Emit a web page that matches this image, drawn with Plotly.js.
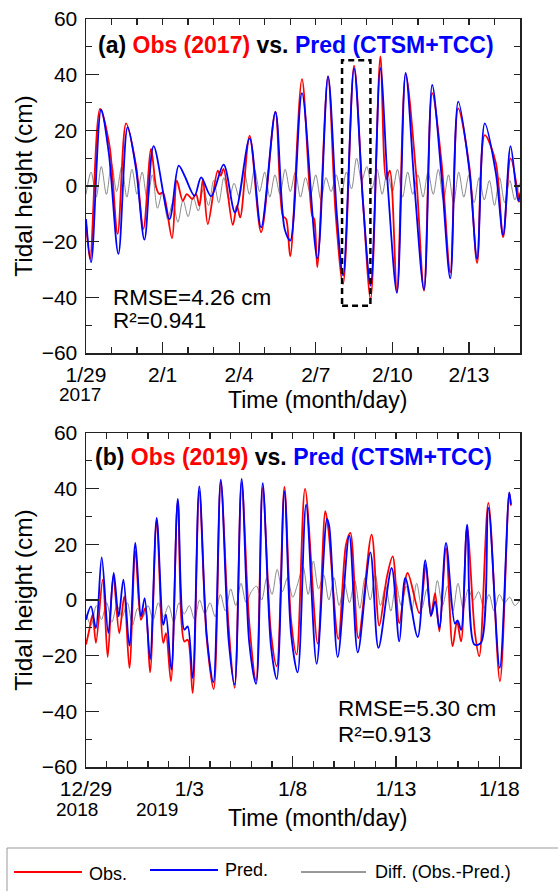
<!DOCTYPE html>
<html>
<head>
<meta charset="utf-8">
<script src="https://cdn.plot.ly/plotly-3.0.1.min.js"></script>
<style>html,body{margin:0;padding:0;background:#fff;}#chart{width:558px;height:891px;}</style>
</head>
<body>
<div id="chart"></div>
<script>
// ---------------- Panel (a): 2017, days since 1/29 00:00 ----------------
const tickDaysA = [0, 3, 6, 9, 12, 15];
const tickLabelsA = ['1/29', '2/1', '2/4', '2/7', '2/10', '2/13'];

const predA_day = [0.00,0.20,0.59,0.89,1.27,1.63,1.96,2.29,2.65,3.27,3.63,3.86,4.25,4.51,4.90,5.39,5.84,6.41,6.86,7.42,7.78,8.00,8.46,9.06,9.48,9.83,10.07,10.50,10.85,11.15,11.53,11.83,12.18,12.52,12.88,13.24,13.56,13.92,14.27,14.58,15.01,15.32,15.62,16.05,16.34,16.63,16.93,17.02];
const predA_cm  = [-11.9,-27.4,27.4,12.1,-24.4,21.1,6.1,-19.3,14.3,-11.9,7.3,3.7,-3.5,3.1,-3.7,7.7,-9.5,17.1,-14.9,26.5,-15.4,-19.6,33.4,-26.0,39.4,-10.7,-32.2,42.3,-5.9,-35.8,42.3,-1.1,-38.4,40.6,-1.7,-37.2,36.3,4.3,-33.2,30.3,6.1,-26.2,22.5,4.9,-17.6,14.3,-5.3,-2.3];

const obsA_day = [0.00,0.16,0.55,0.92,1.24,1.57,1.96,2.25,2.55,2.75,2.88,3.01,3.37,3.56,3.79,3.95,4.16,4.31,4.44,4.58,4.77,5.16,5.27,5.39,5.75,5.91,6.04,6.41,6.86,7.42,7.71,7.84,8.00,8.46,8.86,8.94,9.06,9.48,9.78,10.07,10.50,10.85,11.15,11.53,11.76,11.90,12.18,12.52,12.92,13.24,13.56,13.92,14.27,14.58,15.01,15.32,15.62,16.05,16.34,16.63,16.97];
const obsA_cm  = [-13.1,-26.2,27.7,14.5,-17.2,22.5,7.3,-15.4,13.3,-0.5,-2.9,-2.3,-18.7,1.9,-5.3,-2.9,-4.7,-2.9,-7.1,2.5,-13.7,5.5,3.7,6.1,-14.0,-7.1,-11.3,18.1,-16.6,26.7,-10.7,-11.9,-25.3,38.4,-10.7,-11.9,-29.2,39.4,-10.1,-35.2,43.2,-5.6,-40.6,46.6,2.5,5.5,-38.0,40.2,5.5,-37.6,33.4,9.1,-31.0,27.9,7.3,-27.7,18.3,8.5,-18.4,9.9,-5.9];

const diffA_step = 0.2;
const diffA_cm = [-3,5,-4,7,-3,8,-2,7,-4,6,-3,5,-5,4,
  -8,-2,-12,-6,-13,-5,-11,-4,
  -9,-1,-7,2,-6,3,-5,1,
  -4,5,-3,6,-2,5,-4,4,-3,6,-2,5,-4,3,-3,4,-5,3,-2,4,-3,
  5,-1,10,2,7,-1,6,-3,5,-2,6,-4,5,-3,4,
  -4,5,-3,6,-5,4,-6,5,-4,4,-6,3,-5,2,-7,3,-6,2,-5,1,-4];

// ---------------- Panel (b): 2018/2019, days since 12/29 00:00 ----------------
const tickDaysB = [0, 5, 10, 15, 20];
const tickLabelsB = ['12/29', '1/3', '1/8', '1/13', '1/18'];

const predB_day = [0.00,0.24,0.48,0.76,1.08,1.34,1.58,1.81,2.10,2.39,2.66,2.84,3.10,3.42,3.74,3.87,4.13,4.44,4.76,4.92,5.16,5.48,5.84,6.16,6.52,6.90,7.19,7.53,7.90,8.23,8.55,8.95,9.23,9.60,9.92,10.24,10.65,11.16,11.66,11.77,12.18,12.74,13.15,13.76,14.15,14.79,15.16,15.45,16.05,16.42,16.69,16.89,17.10,17.42,17.85,17.98,18.15,18.44,18.79,19.11,19.47,20.02,20.48,20.56];
const predB_cm  = [-7.1,-2.3,-10.1,15.3,-11.9,9.7,-5.9,7.3,-16.4,20.5,-5.9,0.7,-21.2,29.5,-8.9,-5.3,-25.0,36.3,-10.7,-9.5,-28.0,40.8,-12.5,-29.6,43.2,-14.3,-30.4,43.5,-15.4,-30.1,42.0,-16.6,-28.4,39.0,-11.9,-26.0,34.3,-22.9,29.1,26.5,-20.5,23.1,-18.8,17.1,-17.2,11.5,-14.9,7.9,-13.3,14.3,-5.6,-0.5,-10.1,20.5,-8.5,-7.3,-10.7,27.1,-16.0,-15.4,33.1,-24.4,38.7,34.3];

const obsB_day = [0.00,0.16,0.32,0.48,0.81,1.05,1.32,1.61,1.85,2.10,2.39,2.66,2.87,3.10,3.42,3.74,3.87,4.11,4.44,4.76,4.92,5.16,5.48,5.84,6.18,6.52,6.90,7.19,7.53,7.90,8.23,8.55,8.95,9.23,9.60,9.92,10.19,10.60,11.21,11.58,11.73,12.21,12.58,12.79,13.18,13.82,14.19,14.56,14.84,15.16,15.56,16.13,16.45,16.69,16.89,17.10,17.42,17.74,17.95,18.15,18.44,18.82,19.03,19.47,20.03,20.48,20.56];
const obsB_cm  = [-16.0,-10.7,-5.3,-15.4,7.3,-20.5,8.5,-11.9,1.3,-24.4,17.5,-7.1,-2.9,-26.0,28.6,-15.4,-11.9,-29.2,35.4,-14.9,-14.3,-33.4,39.0,-13.7,-32.0,42.3,-9.5,-31.6,42.0,-8.3,-28.9,40.2,-11.9,-23.8,40.6,-7.1,-19.6,39.9,-15.7,31.9,25.3,-14.0,19.9,24.1,-13.7,23.5,-9.2,8.3,15.7,-8.3,9.7,-4.7,12.7,-5.9,2.5,-11.3,18.7,-16.6,-7.7,-14.9,25.9,-11.9,-20.2,34.9,-29.2,38.4,33.9];

const diffB_step = 0.25;
const diffB_cm = [-5,-9,-2,-7,-1,-8,-2,-6,-1,-9,-3,-6,-2,-7,-1,-6,-2,-8,-1,-5,-2,-7,0,-5,-1,-6,2,-4,
  4,-2,6,-1,3,5,0,8,2,11,3,8,1,6,
  12,2,14,4,9,0,8,-2,6,-1,7,-3,8,0,9,-2,5,-4,6,-2,
  5,-4,6,-3,4,-5,7,-2,5,-4,6,-3,4,0,3,-3,2,-4,2,-1,1,-2,0];

// Highlight box in panel (a) (data units)
const boxA = {x0: 10.03, x1: 11.14, y0: -43.0, y1: 45.2};

// ---------------- Build ----------------
const FONT = 'Liberation Sans, Arial, sans-serif';
const RED = '#ff0000', BLUE = '#0000ff', GRAY = '#8a8a8a';
const stepArr = (n, s) => Array.from({length: n}, (_, i) => +(i * s).toFixed(3));

function series(x, y, color, width, xa, ya) {
  return {x, y, type: 'scatter', mode: 'lines', xaxis: xa, yaxis: ya,
    line: {color, width, shape: 'spline', smoothing: 0.9}, hoverinfo: 'skip', showlegend: false};
}

const traces = [
  series(stepArr(diffA_cm.length, diffA_step), diffA_cm, GRAY, 1, 'x', 'y'),
  series(obsA_day, obsA_cm, RED, 1.8, 'x', 'y'),
  series(predA_day, predA_cm, BLUE, 1.8, 'x', 'y'),
  series(stepArr(diffB_cm.length, diffB_step), diffB_cm, GRAY, 1, 'x2', 'y2'),
  series(obsB_day, obsB_cm, RED, 1.8, 'x2', 'y2'),
  series(predB_day, predB_cm, BLUE, 1.8, 'x2', 'y2'),
  // carriers for mirrored tick axes
  {x: [0], y: [0], xaxis: 'x3', yaxis: 'y3', type: 'scatter', mode: 'markers', marker: {opacity: 0}, showlegend: false, hoverinfo: 'skip'},
  {x: [0], y: [0], xaxis: 'x4', yaxis: 'y4', type: 'scatter', mode: 'markers', marker: {opacity: 0}, showlegend: false, hoverinfo: 'skip'}
];

const W = 558, H = 891, ML = 86, MR = 38, MT = 19, MB = 124;
const PW = W - ML - MR, PH = H - MT - MB;
const px = v => (v - ML) / PW;
const py = v => (H - MB - v) / PH;
const domA = [py(353), 1];
const domB = [0, py(433)];

const AX = '#222';
const tickY = [-60, -40, -20, 0, 20, 40, 60];
function xMain(range, tv, tt, anchor) {
  return {domain: [0, 1], anchor, range, tickmode: 'array', tickvals: tv, ticktext: tt,
    ticks: 'inside', ticklen: 11, tickwidth: 1.3, tickcolor: AX,
    minor: {tickmode: 'linear', tick0: 0, dtick: 1, ticks: 'inside', ticklen: 6, tickwidth: 1.3, tickcolor: AX, showgrid: false},
    showline: true, linecolor: AX, linewidth: 1.5, mirror: true, showgrid: false, zeroline: false,
    tickfont: {family: FONT, size: 21, color: '#000'}, ticklabelstandoff: 2, fixedrange: true};
}
function yMain(domain, anchor) {
  return {domain, anchor, range: [-60, 60], tickmode: 'array', tickvals: tickY,
    ticks: 'inside', ticklen: 13, tickwidth: 1.3, tickcolor: AX,
    minor: {tickmode: 'linear', tick0: 0, dtick: 10, ticks: 'inside', ticklen: 6, tickwidth: 1.3, tickcolor: AX, showgrid: false},
    showline: true, linecolor: AX, linewidth: 1.5, mirror: true, showgrid: false, zeroline: false,
    tickfont: {family: FONT, size: 21, color: '#000'}, ticklabelstandoff: 3,
    title: {text: 'Tidal height (cm)', font: {family: FONT, size: 24.5, color: '#000'}, standoff: 2}, fixedrange: true};
}
function xMirror(range, overlay, anchor) {
  return {overlaying: overlay, anchor, side: 'top', range, tickmode: 'linear', tick0: 0, dtick: 1,
    ticks: 'inside', ticklen: 6, tickwidth: 1.3, tickcolor: AX, showticklabels: false,
    showline: false, showgrid: false, zeroline: false, fixedrange: true};
}
function yMirror(overlay, anchor) {
  return {overlaying: overlay, anchor, side: 'right', range: [-60, 60], tickmode: 'linear', tick0: 0, dtick: 10,
    ticks: 'inside', ticklen: 6, tickwidth: 1.3, tickcolor: AX, showticklabels: false,
    showline: false, showgrid: false, zeroline: false, fixedrange: true};
}

function panelTitle(label, year, xPix, yPix) {
  return {xref: 'paper', yref: 'paper', x: px(xPix), y: py(yPix), xanchor: 'left', yanchor: 'middle', showarrow: false,
    text: '<b>' + label + ' <span style="color:' + RED + '">Obs (' + year + ')</span> vs. <span style="color:' + BLUE + '">Pred (CTSM+TCC)</span></b>',
    font: {family: FONT, size: 23, color: '#000'}};
}
function txt(text, xPix, yPix, size, anchor) {
  return {xref: 'paper', yref: 'paper', x: px(xPix), y: py(yPix), xanchor: anchor || 'left', yanchor: 'middle',
    showarrow: false, text, font: {family: FONT, size, color: '#000'}};
}

const annotations = [
  panelTitle('(a)', '2017', 96, 45),
  panelTitle('(b)', '2019', 93, 457),
  txt('RMSE=4.26 cm', 111, 297, 22.5),
  txt('R²=0.941', 111, 321, 22.5),
  txt('RMSE=5.30 cm', 336, 708, 22.5),
  txt('R²=0.913', 336, 734, 22.5),
  txt('2017', 80, 394, 19, 'center'),
  txt('2018', 77, 810, 19, 'center'),
  txt('2019', 157, 810, 19, 'center'),
  txt('Time (month/day)', 317, 400, 23, 'center'),
  txt('Time (month/day)', 317, 818, 23, 'center'),
  txt('Obs.', 87, 874, 18),
  txt('Pred.', 223, 870, 18),
  txt('Diff. (Obs.-Pred.)', 373, 872, 18)
];

const shapes = [
  {type: 'rect', xref: 'x', yref: 'y', x0: boxA.x0, x1: boxA.x1, y0: boxA.y0, y1: boxA.y1,
    line: {color: '#000', width: 2.5, dash: '6px,4px'}, fillcolor: 'rgba(0,0,0,0)'},
  {type: 'rect', xref: 'paper', yref: 'paper', x0: px(7), x1: px(562), y0: py(894), y1: py(848),
    line: {color: '#999', width: 1}, fillcolor: 'rgba(0,0,0,0)'},
  {type: 'line', xref: 'paper', yref: 'paper', x0: px(14), x1: px(82), y0: py(872), y1: py(872), line: {color: RED, width: 2}},
  {type: 'line', xref: 'paper', yref: 'paper', x0: px(150), x1: px(218), y0: py(870), y1: py(870), line: {color: BLUE, width: 2}},
  {type: 'line', xref: 'paper', yref: 'paper', x0: px(301), x1: px(366), y0: py(872), y1: py(872), line: {color: '#333', width: 1}}
];

const layout = {
  width: W, height: H, margin: {l: ML, r: MR, t: MT, b: MB, pad: 0},
  paper_bgcolor: '#fff', plot_bgcolor: '#fff', showlegend: false,
  font: {family: FONT, color: '#000'},
  xaxis: xMain([0, 17], tickDaysA, tickLabelsA, 'y'),
  yaxis: yMain(domA, 'x'),
  xaxis2: xMain([0, 21], tickDaysB, tickLabelsB, 'y2'),
  yaxis2: yMain(domB, 'x2'),
  xaxis3: xMirror([0, 17], 'x', 'y'),
  yaxis3: yMirror('y', 'x'),
  xaxis4: xMirror([0, 21], 'x2', 'y2'),
  yaxis4: yMirror('y2', 'x2'),
  annotations, shapes
};

Plotly.newPlot('chart', traces, layout, {displayModeBar: false, staticPlot: true});
</script>
</body>
</html>
